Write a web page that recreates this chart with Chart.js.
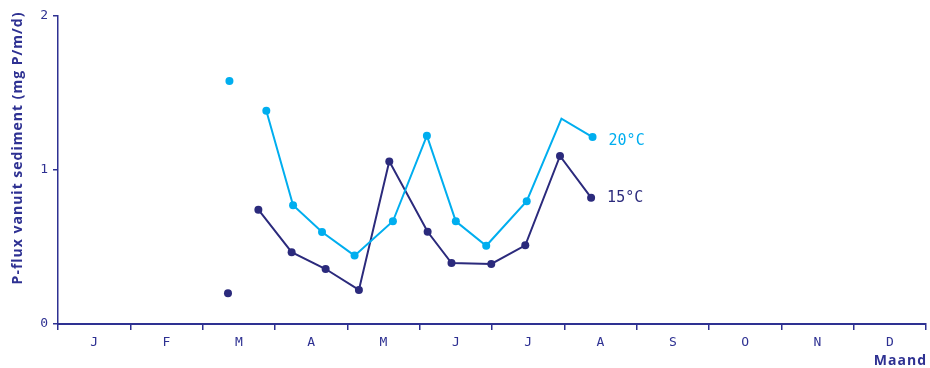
<!DOCTYPE html>
<html>
<head>
<meta charset="utf-8">
<script src="https://cdn.jsdelivr.net/npm/chart.js@4/dist/chart.umd.min.js"></script>
<style>
  html, body { margin: 0; padding: 0; background: #fff; }
  #wrap { width: 930px; height: 368px; }
</style>
</head>
<body>
<div id="wrap"><canvas id="chart"></canvas></div>
<script>
// Months along the x axis; x values are month positions (0 = start of Jan)
const months = ['J', 'F', 'M', 'A', 'M', 'J', 'J', 'A', 'S', 'O', 'N', 'D'];
const yTicks = [0, 1, 2];

// 20°C series
const warmX     = [2.88, 3.25, 3.65, 4.10, 4.63, 5.10, 5.50, 5.92, 6.48, 6.96, 7.39];
const warmY     = [1.385, 0.771, 0.597, 0.444, 0.667, 1.223, 0.667, 0.508, 0.797, 1.333, 1.214];
const warmMark  = [1, 1, 1, 1, 1, 1, 1, 1, 1, 0, 1];
const warmLoneX = [2.37];
const warmLoneY = [1.578];

// 15°C series
const coolX     = [2.77, 3.23, 3.70, 4.16, 4.58, 5.11, 5.44, 5.99, 6.46, 6.94, 7.37];
const coolY     = [0.742, 0.466, 0.357, 0.221, 1.056, 0.599, 0.396, 0.390, 0.511, 1.091, 0.820];
const coolLoneX = [2.35];
const coolLoneY = [0.199];

const NAVY  = '#2e3192';
const WARM  = '#00aeef';
const COOL  = '#2b2a7c';
const MONO  = '"DejaVu Sans Mono", monospace';
const SANS  = '"Open Sans", sans-serif';

const pts = (xs, ys) => xs.map((x, i) => ({ x, y: ys[i] }));

const endLabels = {
  id: 'endLabels',
  afterDatasetsDraw(chart) {
    const ctx = chart.ctx;
    chart.data.datasets.forEach((ds, i) => {
      if (!ds.endLabel) return;
      const meta = chart.getDatasetMeta(i);
      const last = meta.data[meta.data.length - 1];
      ctx.save();
      ctx.font = '15px ' + MONO;
      ctx.fillStyle = ds.borderColor;
      ctx.textBaseline = 'middle';
      ctx.fillText(ds.endLabel, last.x + 16, last.y + (ds.endLabelDy || 0));
      ctx.restore();
    });
  },
  afterDraw(chart) {
    const ctx = chart.ctx, area = chart.chartArea;
    ctx.save();
    ctx.fillStyle = NAVY;
    ctx.font = 'bold 14px ' + SANS;
    ctx.letterSpacing = '1px';
    ctx.textAlign = 'right';
    ctx.textBaseline = 'middle';
    ctx.fillText('Maand', area.right + 1, 361);
    ctx.translate(18, 148);
    ctx.rotate(-Math.PI / 2);
    ctx.textAlign = 'center';
    ctx.fillText('P-flux vanuit sediment (mg P/m/d)', 0, 0);
    ctx.restore();
  }
};

new Chart(document.getElementById('chart'), {
  type: 'scatter',
  data: {
    datasets: [
      {
        data: pts(warmX, warmY),
        showLine: true,
        borderColor: WARM,
        backgroundColor: WARM,
        borderWidth: 2,
        pointRadius: warmMark.map(m => m ? 4 : 0),
        pointBorderWidth: 0,
        endLabel: '20°C',
        endLabelDy: 4,
      },
      {
        data: pts(warmLoneX, warmLoneY),
        borderColor: WARM,
        backgroundColor: WARM,
        pointRadius: 4,
        pointBorderWidth: 0,
      },
      {
        data: pts(coolX, coolY),
        showLine: true,
        borderColor: COOL,
        backgroundColor: COOL,
        borderWidth: 2,
        pointRadius: 4,
        pointBorderWidth: 0,
        endLabel: '15°C',
      },
      {
        data: pts(coolLoneX, coolLoneY),
        borderColor: COOL,
        backgroundColor: COOL,
        pointRadius: 4,
        pointBorderWidth: 0,
      },
    ],
  },
  options: {
    responsive: true,
    maintainAspectRatio: false,
    animation: false,
    layout: { padding: { top: 16, right: 3, left: 0, bottom: 0 } },
    plugins: { legend: { display: false }, tooltip: { enabled: false } },
    scales: {
      x: {
        type: 'linear',
        position: 'bottom',
        weight: 0,
        min: 0,
        max: months.length,
        ticks: { stepSize: 1, display: false },
        grid: { drawOnChartArea: false, tickLength: 6, color: NAVY, lineWidth: 1.5 },
        border: { color: NAVY, width: 2 },
        afterFit: s => { s.height = 6; },
      },
      month: {
        type: 'category',
        position: 'bottom',
        weight: 1,
        labels: months,
        offset: true,
        grid: { display: false, drawTicks: false },
        border: { display: false },
        ticks: { color: NAVY, font: { family: MONO, size: 13 }, padding: 5 },
        afterFit: s => { s.height = 38; },
      },
      y: {
        min: yTicks[0],
        max: yTicks[yTicks.length - 1],
        afterBuildTicks: s => { s.ticks = yTicks.map(v => ({ value: v })); },
        ticks: { color: NAVY, font: { family: MONO, size: 13 }, padding: 5 },
        grid: { drawOnChartArea: false, tickLength: 5, color: NAVY, lineWidth: 1.5 },
        border: { color: NAVY, width: 1.5 },
        afterFit: s => { s.width = 58; },
      },
    },
  },
  plugins: [endLabels],
});
</script>
</body>
</html>
